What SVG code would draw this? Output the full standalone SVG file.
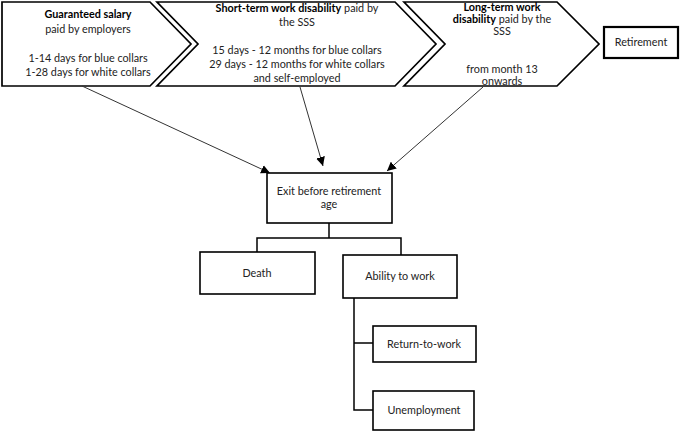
<svg xmlns="http://www.w3.org/2000/svg" width="685" height="432" viewBox="0 0 685 432">
<defs>
<style>
.shape{fill:#fff;stroke:#000;stroke-width:1.7}
.box{fill:#fff;stroke:#000;stroke-width:1.6}
.t{font-family:Lato,"Liberation Sans",Arial,sans-serif;font-size:10.8px;fill:#222;text-anchor:middle}
.b{font-weight:bold;fill:#000}
.conn{fill:none;stroke:#000;stroke-width:1.5}
.arr{fill:none;stroke:#333;stroke-width:1}
</style>
<marker id="ah" viewBox="0 0 10 10" refX="10" refY="5" markerWidth="9" markerHeight="9" markerUnits="userSpaceOnUse" orient="auto">
<path d="M0,0 L10,5 L0,10 z" fill="#000"/>
</marker>
</defs>
<rect width="685" height="432" fill="#fff"/>
<g id="guaranteed-salary">
<polygon class="shape" points="2,2 150,2 191,44 150,86 2,86"/>
<text class="t" x="88" y="18"><tspan class="b">Guaranteed salary</tspan></text>
<text class="t" x="88" y="33">paid by employers</text>
<text class="t" x="88" y="62">1-14 days for blue collars</text>
<text class="t" x="88" y="76">1-28 days for white collars</text>
</g>
<g id="short-term">
<polygon class="shape" points="157,2 395,2 436,44 395,86 157,86 198,44"/>
<text class="t" x="297" y="12"><tspan class="b">Short-term work disability</tspan> paid by</text>
<text class="t" x="297" y="26">the SSS</text>
<text class="t" x="297" y="54">15 days - 12 months for blue collars</text>
<text class="t" x="297" y="68">29 days - 12 months for white collars</text>
<text class="t" x="297" y="82">and self-employed</text>
</g>
<g id="long-term">
<polygon class="shape" points="404,2 557,2 599,44 557,86 404,86 445,44"/>
<text class="t" x="502" y="11"><tspan class="b">Long-term work</tspan></text>
<text class="t" x="502" y="23"><tspan class="b">disability</tspan> paid by the</text>
<text class="t" x="502" y="35">SSS</text>
<text class="t" x="502" y="73">from month 13</text>
<text class="t" x="502" y="85">onwards</text>
</g>
<g id="retirement">
<rect x="604" y="27" width="74" height="31" fill="#fff" stroke="#000" stroke-width="2.2"/>
<text class="t" x="641" y="46">Retirement</text>
</g>
<g id="exit">
<rect class="box" x="267" y="173" width="125" height="50"/>
<text class="t" x="329" y="195">Exit before retirement</text>
<text class="t" x="329" y="208">age</text>
</g>
<g id="death">
<rect class="box" x="200" y="252" width="115" height="42"/>
<text class="t" x="257" y="277">Death</text>
</g>
<g id="ability">
<rect class="box" x="343" y="255" width="114" height="43"/>
<text class="t" x="400" y="280">Ability to work</text>
</g>
<g id="return">
<rect class="box" x="373" y="326" width="103" height="36"/>
<text class="t" x="424" y="348">Return-to-work</text>
</g>
<g id="unemployment">
<rect class="box" x="373" y="391" width="101" height="39"/>
<text class="t" x="424" y="414">Unemployment</text>
</g>
<g id="connectors">
<line class="arr" x1="82" y1="86" x2="270" y2="173" marker-end="url(#ah)"/>
<line class="arr" x1="300" y1="87" x2="323" y2="166" marker-end="url(#ah)"/>
<line class="arr" x1="483" y1="87" x2="387" y2="171" marker-end="url(#ah)"/>
<polyline class="conn" points="329,223 329,238"/>
<polyline class="conn" points="257,252 257,238 401,238 401,255"/>
<polyline class="conn" points="354,298 354,410 373,410"/>
<polyline class="conn" points="354,343 373,343"/>
</g>
</svg>
